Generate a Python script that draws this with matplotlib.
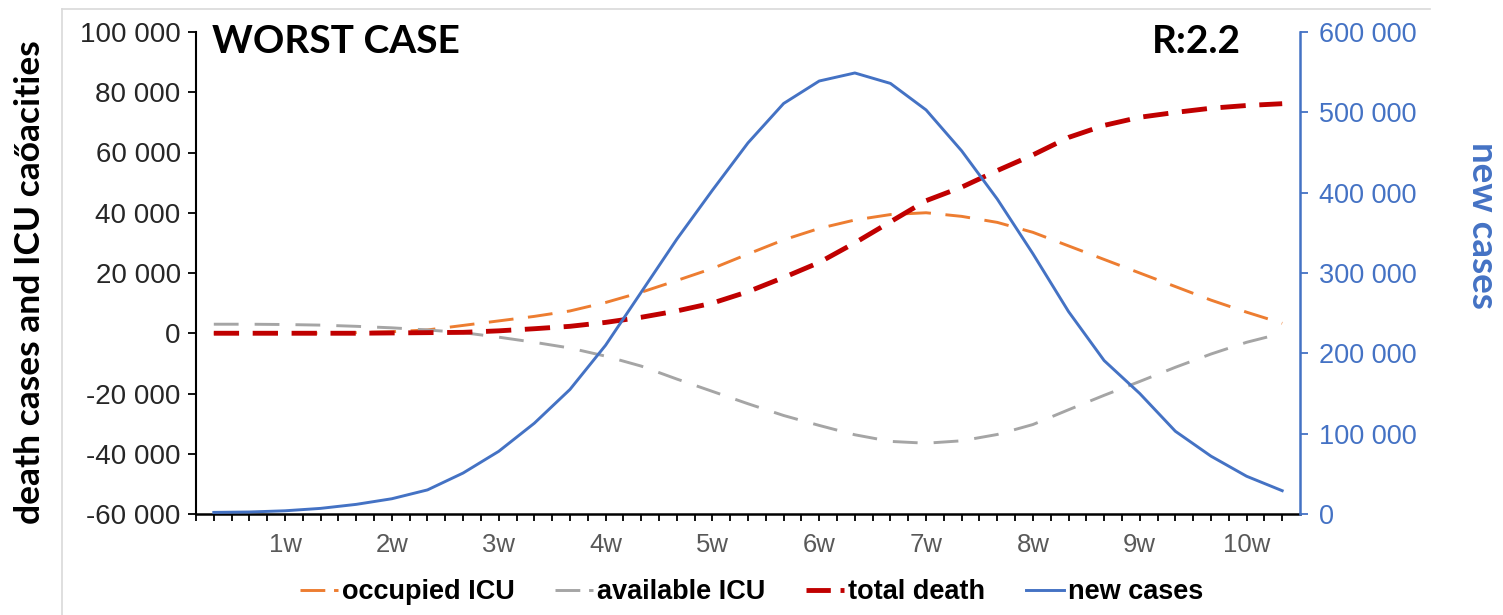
import matplotlib
matplotlib.use("Agg")
import matplotlib.pyplot as plt
from matplotlib.lines import Line2D
from matplotlib.ticker import FuncFormatter, FixedLocator, MultipleLocator
import numpy as np

# one point every third of a week
weeks = (np.arange(31) + 1) / 3
week_labels = ["1w", "2w", "3w", "4w", "5w", "6w", "7w", "8w", "9w", "10w"]

occupied_icu = [0, 0, 0, 0, 200, 500, 1100, 2600, 4100, 5600, 7400, 10200, 13600, 17500, 21500,
                26300, 31000, 34800, 37600, 39400, 40000, 38800, 36800, 33500, 29000, 24500,
                20000, 15500, 11000, 7000, 3300]
available_icu = [3000, 3000, 2900, 2700, 2300, 1800, 1100, 200, -1300, -3000, -4900, -7600,
                 -10900, -15200, -19300, -23400, -27300, -30600, -33700, -35900, -36500, -35700,
                 -33600, -30300, -25400, -20600, -16000, -11300, -6900, -3000, 0]
total_death = [0, 0, 0, 0, 0, 100, 200, 300, 800, 1500, 2300, 3600, 5300, 7400, 10000, 13800,
               18500, 23500, 30000, 37000, 44000, 48500, 54000, 59200, 65000, 69000, 71700,
               73300, 74700, 75600, 76200]
new_cases = [2000, 2500, 4000, 7000, 12000, 19000, 30000, 51000, 78000, 113000, 155000, 210000,
             276000, 342000, 403000, 462000, 511000, 539000, 549000, 536000, 503000, 452000,
             392000, 324000, 252000, 191000, 150000, 103000, 72000, 47000, 29000]

ORANGE = "#ED7D31"
GRAY = "#A5A5A5"
RED = "#C00000"
BLUE = "#4472C4"

W, H = 1503, 615


def spaced(v, pos):
    return f"{int(round(v)):,}".replace(",", " ")


fig = plt.figure(figsize=(W / 100, H / 100), dpi=100)
ax = fig.add_axes([196 / W, 1 - 514 / H, (1300 - 196) / W, (514 - 32) / H])
ax2 = ax.twinx()

ax.plot(weeks, occupied_icu, color=ORANGE, lw=2.1, ls=(0, (8.5, 5)))
ax.plot(weeks, available_icu, color=GRAY, lw=2.1, ls=(0, (8.5, 5.5)))
ax.plot(weeks, total_death, color=RED, lw=3.5, ls=(0, (5.2, 2.8)))
ax2.plot(weeks, new_cases, color=BLUE, lw=2.1)

ax.set_xlim(1 / 6, 10.5)
ax.set_ylim(-60000, 100000)
ax2.set_ylim(0, 600000)

ax.yaxis.set_major_locator(MultipleLocator(20000))
ax.yaxis.set_major_formatter(FuncFormatter(spaced))
ax2.yaxis.set_major_locator(MultipleLocator(100000))
ax2.yaxis.set_major_formatter(FuncFormatter(spaced))

ax.set_xticks(range(1, 11))
ax.set_xticklabels(week_labels)
ax.xaxis.set_minor_locator(FixedLocator(np.arange(1, 63) / 6))

for a in (ax, ax2):
    a.spines["top"].set_visible(False)
ax.spines["right"].set_visible(False)
ax.spines["left"].set_linewidth(1.5)
ax.spines["bottom"].set_linewidth(1.8)
ax2.spines["left"].set_visible(False)
ax2.spines["bottom"].set_visible(False)
ax2.spines["right"].set_color(BLUE)
ax2.spines["right"].set_linewidth(1.8)

tick_font = "Liberation Sans"
ax.tick_params(axis="y", direction="out", length=6, width=1.3, pad=5, labelsize=20,
               labelcolor="#262626")
ax.tick_params(axis="x", which="both", direction="out", length=5, width=1.3, pad=9,
               labelsize=18.5, labelcolor="#595959")
ax2.tick_params(axis="y", direction="out", length=6, width=1.3, pad=8, labelsize=19.5,
                color=BLUE, labelcolor=BLUE)
for lab in ax.get_yticklabels() + ax.get_xticklabels() + ax2.get_yticklabels():
    lab.set_fontfamily(tick_font)

# titles and axis names
fig.text(212 / W, 1 - 53 / H, "WORST CASE", fontsize=28, fontweight="bold",
         family=["Lato", "DejaVu Sans"], va="baseline", ha="left")
fig.text(1241 / W, 1 - 53 / H, "R:2.2", fontsize=28, fontweight="bold",
         family=["Lato", "DejaVu Sans"], va="baseline", ha="right")
fig.text(30 / W, 1 - 282 / H, "death cases and ICU caőacities", rotation=90, fontsize=25.5,
         fontweight="bold", family=["Lato", "DejaVu Sans"], ha="center", va="center")
fig.text(1482 / W, 1 - 225 / H, "new cases", rotation=270, fontsize=26.5, fontweight="bold",
         color=BLUE, family=["Lato", "DejaVu Sans"], ha="center", va="center")

# chart area border (left and top only visible)
fig.add_artist(Line2D([62 / W, 62 / W], [0, 1 - 9 / H], transform=fig.transFigure,
                      color="#D9D9D9", lw=1.2))
fig.add_artist(Line2D([62 / W, 1430 / W], [1 - 9 / H, 1 - 9 / H], transform=fig.transFigure,
                      color="#D9D9D9", lw=1.2))

handles = [
    Line2D([], [], color=ORANGE, lw=2.1, ls=(0, (8.5, 3))),
    Line2D([], [], color=GRAY, lw=2.1, ls=(0, (8.5, 3))),
    Line2D([], [], color=RED, lw=3.5, ls=(0, (5, 2))),
    Line2D([], [], color=BLUE, lw=2.1),
]
labels = ["occupied ICU", "available ICU", "total death", "new cases"]
fig.legend(handles, labels, loc="center", bbox_to_anchor=(0.5, 1 - 592 / H), ncol=4,
           frameon=False, handlelength=1.4, handletextpad=0.15, columnspacing=1.5,
           prop={"family": "Liberation Sans", "weight": "bold", "size": 19.5})

fig.savefig("out.png", dpi=100, facecolor="white")
